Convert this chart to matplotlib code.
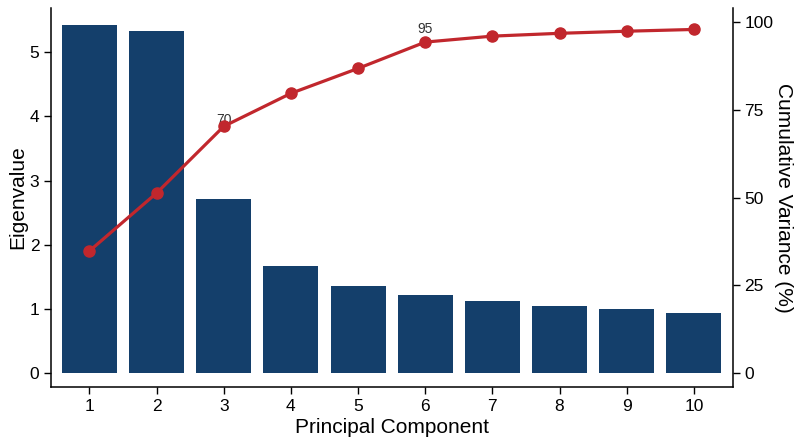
import numpy as np
from matplotlib import pyplot as plt

# Scree plot data
components = [1, 2, 3, 4, 5, 6, 7, 8, 9, 10]
eigenvalues = [5.42, 5.33, 2.71, 1.67, 1.36, 1.21, 1.12, 1.04, 0.99, 0.93]
cumulative = [34.8, 51.3, 70.3, 79.7, 86.8, 94.3, 96.0, 96.8, 97.4, 97.9]
labeled = {3: '70', 6: '95'}

plt.rcParams['font.family'] = ['Liberation Sans', 'DejaVu Sans']

bar_color = '#143f6b'
line_color = '#c1272d'

fig = plt.figure(figsize=(8, 4.47), dpi=100)
ax = fig.add_axes([0.064, 0.134, 0.852, 0.848])

ax.bar(components, eigenvalues, width=0.82, color=bar_color, zorder=1)
ax.set_xlim(0.43, 10.58)
ax.set_ylim(-0.22, 5.69)
ax.set_xticks(components)
ax.set_yticks([0, 1, 2, 3, 4, 5])
ax.set_xlabel('Principal Component', fontsize=15, labelpad=3)
ax.set_ylabel('Eigenvalue', fontsize=15, labelpad=2)

# Secondary axis for the cumulative variance line
ax2 = ax.twinx()
ax2.plot(components, cumulative, color=line_color, lw=2.3,
         marker='o', markersize=8, zorder=3)
ax2.set_ylim(-4, 104)
ax2.set_yticks([0, 25, 50, 75, 100])
ax2.set_ylabel('Cumulative Variance (%)', fontsize=15, rotation=270, labelpad=14)

# Threshold labels above their points (drawn under the line)
offsets = {3: -0.7, 6: 4.3}
for comp, txt in labeled.items():
    ax2.annotate(txt, (comp, cumulative[comp - 1]), xytext=(0, offsets[comp]),
                 textcoords='offset points', ha='center', va='bottom',
                 fontsize=10, color='#333333', zorder=2)

for a in (ax, ax2):
    a.spines['top'].set_visible(False)
    for s in ('left', 'right', 'bottom'):
        a.spines[s].set_linewidth(1.1)
    a.tick_params(direction='out', length=5, width=1.0, labelsize=12.5,
                  colors='black')
ax.spines['right'].set_visible(False)
ax2.spines['left'].set_visible(False)
ax2.spines['bottom'].set_visible(False)

plt.savefig('out.png', dpi=100)
